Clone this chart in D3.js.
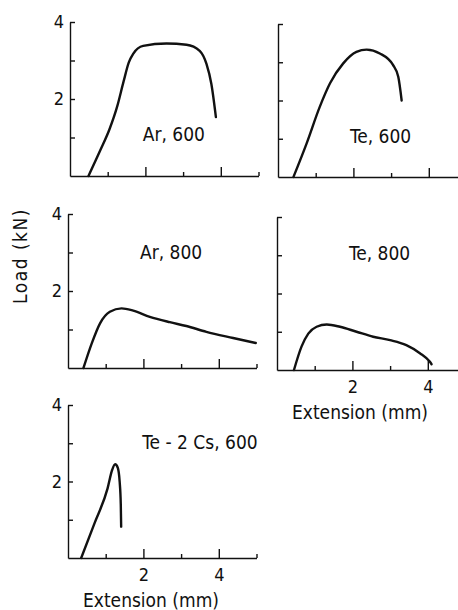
<!DOCTYPE html>
<html>
<head>
<meta charset="utf-8">
<script src="https://cdn.jsdelivr.net/npm/d3@7"></script>
<style>
  html, body { margin: 0; padding: 0; background: #fff; }
  text { font-family: "DejaVu Sans Condensed", "DejaVu Sans", sans-serif; font-stretch: condensed; fill: #111; }
</style>
</head>
<body>
<div id="chart"></div>
<script>
// Load-extension curves, [extension (mm), load (kN)]
const ar600 = [[0.49,0],[0.8,0.66],[1.05,1.22],[1.25,1.8],[1.42,2.45],[1.56,2.95],[1.68,3.18],[1.94,3.38],[2.56,3.44],[3.09,3.41],[3.44,3.25],[3.62,2.91],[3.75,2.39],[3.87,1.53]];
const te600 = [[0.41,0],[0.76,0.88],[1.11,1.84],[1.38,2.45],[1.73,2.97],[2.08,3.27],[2.35,3.33],[2.70,3.23],[3.05,2.93],[3.19,2.62],[3.28,2.0]];
const ar800 = [[0.41,0],[0.63,0.64],[0.85,1.16],[1.11,1.46],[1.42,1.55],[1.73,1.49],[2.17,1.33],[2.70,1.19],[3.14,1.09],[3.67,0.94],[4.38,0.78],[4.98,0.65]];
const te800 = [[0.45,0],[0.65,0.61],[0.83,0.95],[1.05,1.13],[1.32,1.19],[1.67,1.13],[2.11,1.0],[2.55,0.87],[3.0,0.78],[3.43,0.65],[3.79,0.44],[4.05,0.22],[4.1,0.15]];
const te2cs600 = [[0.35,0],[0.7,0.9],[1.05,1.82],[1.17,2.3],[1.25,2.45],[1.32,2.36],[1.37,2.0],[1.40,1.4],[1.41,0.82]];

const panelLabels = ['Ar, 600', 'Te, 600', 'Ar, 800', 'Te, 800', 'Te - 2 Cs, 600'];
const labelPos = [[1.93,0.9],[1.91,0.89],[1.91,2.83],[1.91,2.88],[1.97,2.85]];
const yTickLabels = [2, 4];
const xTickLabels = [2, 4];
const xLabel = 'Extension (mm)';
const yLabel = 'Load (kN)';

const width = 458, height = 610;
const svg = d3.select('#chart').append('svg')
  .attr('width', width)
  .attr('height', height);

// panel frames: left x, bottom y, top y, which axes get labels
const panels = [
  { data: ar600, x0: 70, yb: 176, yt: 22, yLab: true, xLab: false },
  { data: te600, x0: 278, yb: 177, yt: 24, yLab: false, xLab: false },
  { data: ar800, x0: 68, yb: 368, yt: 214, yLab: true, xLab: false },
  { data: te800, x0: 277, yb: 370, yt: 217, yLab: false, xLab: true },
  { data: te2cs600, x0: 68, yb: 558, yt: 405, yLab: true, xLab: true }
];

const unit = 37.7;

panels.forEach((p, i) => {
  const x = d3.scaleLinear().domain([0, 5]).range([p.x0, p.x0 + 5 * unit]);
  const y = d3.scaleLinear().domain([0, 4]).range([p.yb, p.yt]);
  const g = svg.append('g');

  // x axis: short ticks at odd values, long at even
  g.append('g')
    .attr('transform', `translate(0,${p.yb})`)
    .call(d3.axisBottom(x).tickValues([1, 3, 5]).tickSizeInner(-4).tickSizeOuter(0).tickFormat(''));
  const xMajor = g.append('g')
    .attr('transform', `translate(0,${p.yb})`)
    .call(d3.axisBottom(x).tickValues(xTickLabels).tickSizeInner(-9).tickSizeOuter(0)
      .tickPadding(10).tickFormat(p.xLab ? d3.format('d') : ''));
  xMajor.select('.domain').remove();

  // y axis: inward ticks
  g.append('g')
    .attr('transform', `translate(${p.x0},0)`)
    .call(d3.axisLeft(y).tickValues([1, 2, 3, 4]).tickSizeInner(-5).tickSizeOuter(0)
      .tickPadding(6).tickFormat(d => (p.yLab && yTickLabels.includes(d)) ? d : ''));

  g.selectAll('.domain, .tick line').attr('stroke', '#111').attr('stroke-width', 1.4);
  g.selectAll('.tick text').attr('font-size', 18).style('font-family', null);

  g.append('path')
    .datum(p.data)
    .attr('fill', 'none')
    .attr('stroke', '#111')
    .attr('stroke-width', 2.4)
    .attr('stroke-linecap', 'round')
    .attr('d', d3.line()
      .x(d => x(d[0]))
      .y(d => y(d[1]))
      .curve(d3.curveMonotoneX));

  g.append('text')
    .attr('x', x(labelPos[i][0]))
    .attr('y', y(labelPos[i][1]))
    .attr('font-size', 19)
    .text(panelLabels[i]);

  if (p.xLab) {
    g.append('text')
      .attr('x', p.x0 + 83)
      .attr('y', p.yb + 49)
      .attr('text-anchor', 'middle')
      .attr('font-size', 19)
      .text(xLabel);
  }
});

svg.append('text')
  .attr('transform', 'translate(27,256) rotate(-90)')
  .attr('text-anchor', 'middle')
  .attr('font-size', 19)
  .attr('letter-spacing', 1.5)
  .text(yLabel);
</script>
</body>
</html>
